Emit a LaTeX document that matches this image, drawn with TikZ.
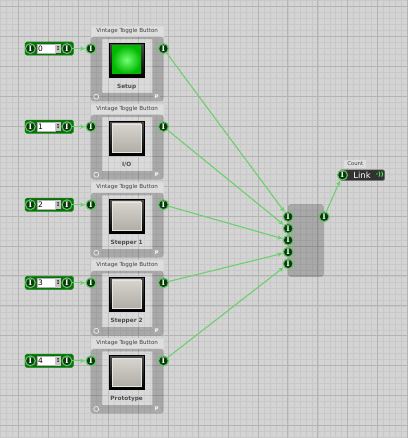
\documentclass[tikz,border=0pt]{standalone}
\usepackage{fontspec}
\setmainfont{DejaVu Sans}
\newfontfamily\pinfont{DejaVu Serif}
\usetikzlibrary{arrows.meta,positioning,calc}
\definecolor{GridBg}{RGB}{212,212,212}
\definecolor{GridMinor}{RGB}{200,200,200}
\definecolor{GridMajor}{RGB}{180,180,180}
\definecolor{PinDark}{RGB}{10,58,14}
\definecolor{PinRing}{RGB}{96,196,96}
\definecolor{WireGreen}{RGB}{108,208,108}
\definecolor{BoxGreen}{RGB}{22,104,22}
\definecolor{TitleGrey}{RGB}{222,222,222}
\definecolor{LinkDark}{RGB}{50,50,50}
\definecolor{FaceLight}{RGB}{214,212,204}
\definecolor{FaceDark}{RGB}{176,174,166}

\begin{document}
\begin{tikzpicture}[x=1pt,y=-1pt,
  pin/.style={circle,draw=PinRing,line width=1.1pt,fill=PinDark,minimum size=9.8pt,
              inner sep=0pt,text=white,font=\pinfont\bfseries\fontsize{7.5}{7.5}\selectfont},
  wire/.style={WireGreen,line width=1.1pt,-{Stealth[length=5pt,width=4.5pt]},shorten >=0.5pt},
  numbox/.style={draw=green!55!black,line width=0.8pt,fill=BoxGreen,rounded corners=1.5pt,
                 minimum width=48pt,minimum height=13pt,inner sep=0pt},
  numfield/.style={fill=white,draw=gray!60,minimum width=18pt,minimum height=9.5pt,inner sep=1pt,
                   text width=16pt,align=left,font=\fontsize{7.5}{7.5}\selectfont},
  spin/.style={fill=gray!45,minimum width=5.5pt,minimum height=9.5pt,inner sep=0pt,
               font=\fontsize{5.5}{5.5}\selectfont},
  title/.style={fill=TitleGrey,draw=white!70!gray,minimum width=72pt,minimum height=10pt,
                inner sep=0pt,text=black!75,font=\fontsize{5.6}{6}\selectfont},
  panel/.style={minimum width=72.6pt,minimum height=64.5pt,inner sep=0pt},
  inner/.style={fill=white,fill opacity=0.15,minimum width=50pt,minimum height=53.5pt,inner sep=0pt},
  frame/.style={top color=black!70,bottom color=black,draw=black,minimum width=35pt,
                minimum height=34pt,inner sep=0pt},
  btngreen/.style={inner color=green!55!white,outer color=green!72!black,
                   minimum width=29pt,minimum height=28pt,inner sep=0pt},
  btngrey/.style={top color=FaceLight,bottom color=FaceDark,draw=FaceLight!60!white,
                  line width=0.6pt,minimum width=29pt,minimum height=28pt,inner sep=0pt},
  lbl/.style={text=black!70,font=\bfseries\fontsize{5.8}{6}\selectfont},
  pmark/.style={circle,fill=gray!65,minimum size=7pt,inner sep=0pt,text=white,
                font=\bfseries\fontsize{5}{5}\selectfont},
  loopmark/.style={circle,draw=white!85!gray,line width=0.7pt,minimum size=5pt,inner sep=0pt},
]
\fill[GridBg] (0,0) rectangle (408,438);
\foreach \x in {0,6,...,408}
  \draw[GridMinor,line width=0.6pt] (\x,0) -- (\x,438);
\foreach \y in {0,6,...,438}
  \draw[GridMinor,line width=0.6pt] (0,\y) -- (408,\y);
\foreach \x in {18,48,...,408}
  \draw[GridMajor,line width=0.8pt] (\x,0) -- (\x,438);
\foreach \y in {6,36,...,438}
  \draw[GridMajor,line width=0.8pt] (0,\y) -- (408,\y);

\foreach \i/\lbl/\face in {0/Setup/btngreen,1/{I/O}/btngrey,2/Stepper 1/btngrey,
                           3/Stepper 2/btngrey,4/Prototype/btngrey}{
  \pgfmathsetmacro{\yy}{48.3+78.2*\i}
  \node[numbox] (num\i) at (49,\yy) {};
  \node[numfield] (field\i) at (45.8,\yy) {\i};
  \node[spin] (spin\i) at (57.8,\yy) {\char"2195};
  \node[pin] (numL\i) at (30,\yy) {I};
  \node[pin] (numR\i) at (66.7,\yy) {I};
  \node[title] (title\i) at (127,\yy-17.8) {Vintage Toggle Button};
  \node[panel] (panel\i) at (127,\yy+20.5) {};
  \node[inner] (inner\i) at (127,\yy+17.5) {};
  \fill[black,fill opacity=0.2,even odd rule]
    [rounded corners=3pt] (panel\i.north west) rectangle (panel\i.south east)
    [sharp corners] (inner\i.north west) rectangle (inner\i.south east);
  \node[frame] (frame\i) at (126.5,\yy+11.4) {};
  \node[\face] (btn\i) at (126.5,\yy+11.2) {};
  \node[lbl] (lbl\i) at (126.5,\yy+38.2) {\lbl};
  \node[loopmark] (loop\i) at (96,\yy+48.2) {};
  \node[pmark] (p\i) at (156.7,\yy+48.2) {P};
  \node[pin] (bin\i) at (90.7,\yy) {I};
  \node[pin] (bout\i) at (163.3,\yy) {I};
}

\node[fill=black,fill opacity=0.2,rounded corners=3pt,minimum width=36pt,minimum height=73pt,
      inner sep=0pt] (mux) at (306,240.5) {};
\foreach \i in {0,...,4}
  \node[pin] (m\i) at (288.3,216.7+11.8*\i) {I};
\node[pin] (mout) at (324.3,216.7) {I};

\node[fill=TitleGrey,minimum width=22pt,minimum height=8pt,inner sep=0pt,text=black!75,
      font=\fontsize{5.3}{6}\selectfont] (countlbl) at (355.5,163.5) {Count};
\node[fill=LinkDark,draw=black!60,rounded corners=1.5pt,minimum width=45pt,minimum height=10.5pt,
      inner sep=0pt] (link) at (362.5,175) {};
\node[text=white,font=\fontsize{8.5}{9}\selectfont,anchor=west] (linktxt) at (350,175) {Link};
\node[text=green!70!white,font=\bfseries\fontsize{6}{6}\selectfont] (linkicon) at (380,175) {·))};
\node[pin] (lpin) at (342.7,175) {I};

\foreach \i in {0,...,4}{
  \draw[wire] (numR\i) -- (bin\i);
  \draw[wire] (bout\i) -- (m\i);
}
\draw[wire] (mout) -- (lpin);
\end{tikzpicture}
\end{document}
